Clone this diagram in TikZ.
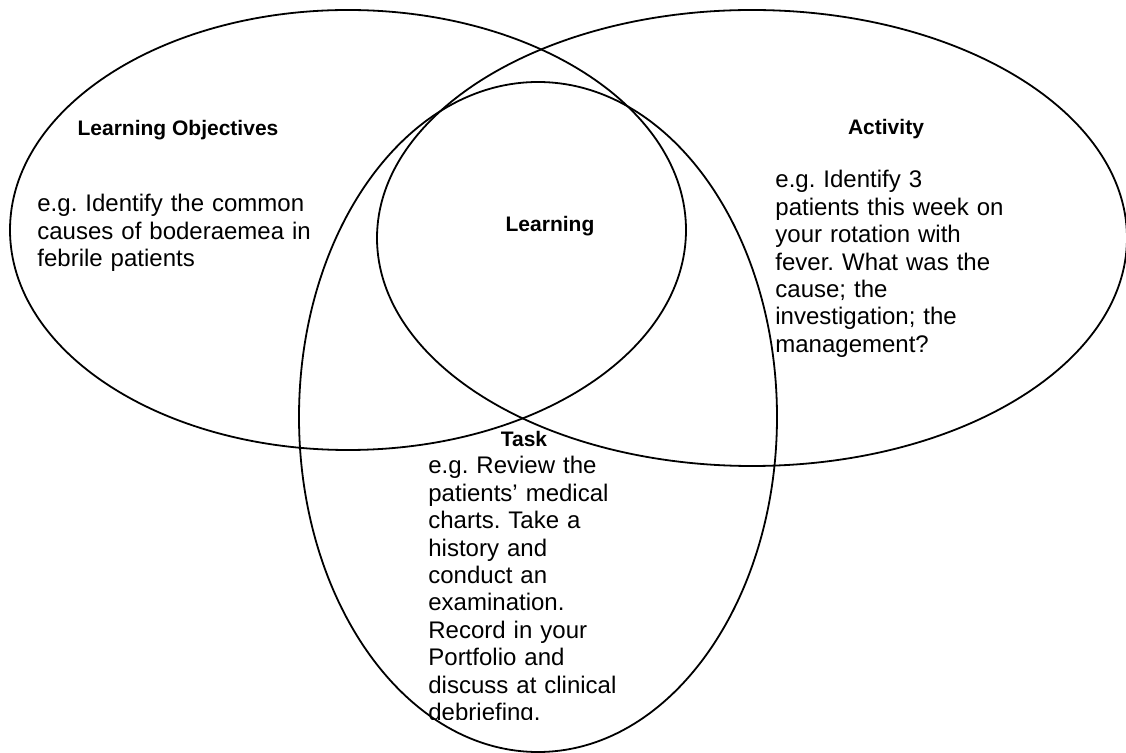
\documentclass[tikz,border=0pt]{standalone}
\usepackage{fontspec}
\setmainfont{Liberation Sans}
\frenchspacing
\tikzset{
  venn/.style={draw=black, line width=0.9pt},
  ttl/.style={font=\fontsize{10.5}{12}\selectfont\bfseries, anchor=base, inner sep=0pt},
  bodytext/.style={font=\fontsize{12}{13.7}\selectfont\frenchspacing, anchor=base west, inner sep=0pt, text width=175pt, align=left},
}
\begin{document}
\begin{tikzpicture}[x=0.5pt,y=-0.5pt]
\useasboundingbox (0,0) rectangle (1126,753);
% ellipses
\draw[venn] (348,230) ellipse [x radius=338, y radius=220];
\draw[venn] (752,238) ellipse [x radius=375, y radius=228];
\draw[venn] (538,417) ellipse [x radius=239, y radius=335];
% titles
\node[ttl] (lotitle) at (178,136) {Learning Objectives};
\node[ttl] (acttitle) at (886,135) {Activity};
\node[ttl] (learn) at (550,232) {Learning};
\node[ttl] (tasktitle) at (524,447) {Task};
% bodies
\node[bodytext] (lobody) at (37,212) {e.g. Identify the common\\causes of boderaemea in\\febrile patients};
\node[bodytext] (actbody) at (775,188) {e.g. Identify 3\\patients this week on\\your rotation with\\fever. What was the\\cause; the\\investigation; the\\management?};
\begin{scope}
\clip (400,455) rectangle (720,720);
\node[bodytext] (taskbody) at (428,474) {e.g. Review the\\patients’ medical\\charts. Take a\\history and\\conduct an\\examination.\\Record in your\\Portfolio and\\discuss at clinical\\debriefing.};
\end{scope}
\end{tikzpicture}
\end{document}
